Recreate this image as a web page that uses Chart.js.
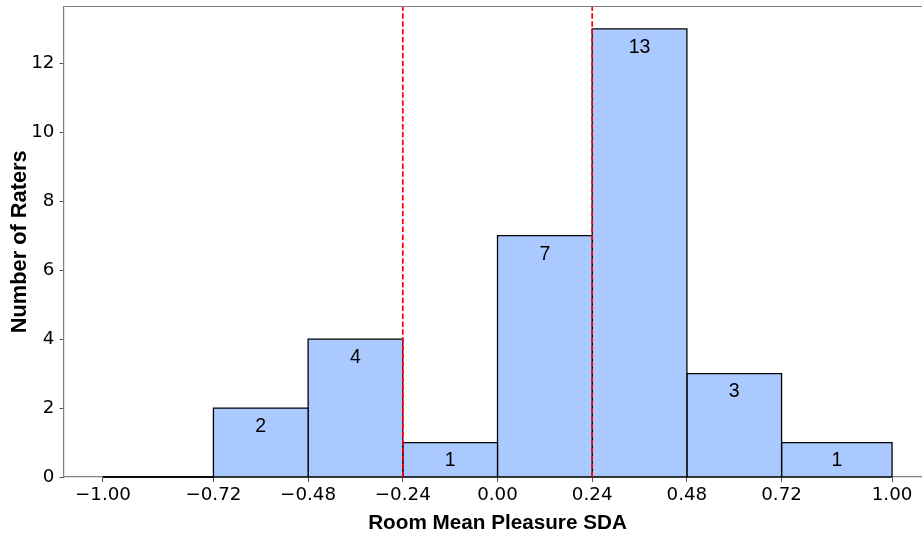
<!DOCTYPE html>
<html>
<head>
<meta charset="utf-8">
<script src="https://cdn.jsdelivr.net/npm/chart.js@4.4.1/dist/chart.umd.min.js"></script>
<style>
  html, body { margin: 0; padding: 0; background: #fff; overflow: hidden; width: 922px; height: 537px; }
  canvas { display: block; }
</style>
</head>
<body>
<canvas id="hist" width="932" height="537"></canvas>
<script>
// histogram bins (edges) and counts per bin
const binEdges = [-1.00, -0.72, -0.48, -0.24, 0.00, 0.24, 0.48, 0.72, 1.00];
const counts = [0, 2, 4, 1, 7, 13, 3, 1];
const thresholds = [-0.24, 0.24];
const xTickVals = [-1.00, -0.72, -0.48, -0.24, 0.00, 0.24, 0.48, 0.72, 1.00];
const yTickVals = [0, 2, 4, 6, 8, 10, 12];

const yMax = 13.65;
const barFill = '#aac9fe';
const tickFont = { family: 'DejaVu Sans', size: 18.3 };
const xTitleFont = { family: 'Liberation Sans', size: 20.7, weight: 'bold' };
const yTitleFont = { family: 'Liberation Sans', size: 21.8, weight: 'bold' };

const datasets = [];

// dashed threshold lines (first so they are drawn on top)
thresholds.forEach(t => {
    datasets.push({
        data: [{ x: t, y: 0 }, { x: t, y: yMax }],
        borderColor: '#ff0000', borderWidth: 1.7, borderDash: [5.5, 2.4],
        pointRadius: 0, fill: false, clip: false
    });
});

// bottom edges of all bins
datasets.push({
    data: [{ x: binEdges[0], y: 0 }, { x: binEdges[binEdges.length - 1], y: 0 }],
    borderColor: '#000', borderWidth: 1.3, pointRadius: 0, fill: false, clip: 4
});

// one rectangle per bin
counts.forEach((c, i) => {
    const x0 = binEdges[i], x1 = binEdges[i + 1];
    datasets.push({
        data: [{ x: x0, y: 0 }, { x: x0, y: c }, { x: x1, y: c }, { x: x1, y: 0 }],
        borderColor: '#000', borderWidth: 1.3, backgroundColor: barFill,
        pointRadius: 0, fill: 'origin', tension: 0, clip: 4
    });
});

const countLabels = {
    id: 'countLabels',
    afterDatasetsDraw(chart) {
        const { ctx, scales: { x, y } } = chart;
        ctx.save();
        ctx.font = '19.5px "Liberation Sans"';
        ctx.fillStyle = '#000';
        ctx.textAlign = 'center';
        ctx.textBaseline = 'middle';
        counts.forEach((c, i) => {
            if (c <= 0) return;
            const cx = x.getPixelForValue((binEdges[i] + binEdges[i + 1]) / 2);
            ctx.fillText(String(c), cx, y.getPixelForValue(c) + 18.5);
        });
        ctx.restore();
    }
};

const topSpine = {
    id: 'topSpine',
    afterDraw(chart) {
        const { ctx, chartArea } = chart;
        ctx.save();
        ctx.strokeStyle = '#7f7f7f';
        ctx.lineWidth = 1.2;
        ctx.beginPath();
        ctx.moveTo(chartArea.left, chartArea.top);
        ctx.lineTo(chartArea.right, chartArea.top);
        ctx.stroke();
        ctx.restore();
    }
};

const fmt = v => (v < 0 ? '\u2212' : '') + Math.abs(v).toFixed(2);

new Chart(document.getElementById('hist'), {
    type: 'line',
    data: { datasets },
    options: {
        responsive: false,
        animation: false,
        layout: { padding: { top: 6.5, right: 0.5, left: 0, bottom: 0 } },
        plugins: { legend: { display: false }, tooltip: { enabled: false } },
        scales: {
            x: {
                type: 'linear', min: -1.1, max: 1.1,
                afterBuildTicks: s => { s.ticks = xTickVals.map(v => ({ value: v })); },
                afterFit: s => { s.height = 60; s.paddingLeft = 0; s.paddingRight = 0; },
                ticks: { font: tickFont, color: '#000', padding: 2, maxRotation: 0, autoSkip: false, callback: v => fmt(v) },
                grid: { drawOnChartArea: false, drawTicks: true, tickLength: 5, color: '#555' },
                border: { display: true, color: '#7f7f7f', width: 1.2 },
                title: { display: true, text: 'Room Mean Pleasure SDA', font: xTitleFont, color: '#000', padding: { top: 0, bottom: 1 } }
            },
            y: {
                type: 'linear', min: 0, max: yMax,
                afterBuildTicks: s => { s.ticks = yTickVals.map(v => ({ value: v })); },
                afterFit: s => { s.width = 63.5; s.paddingTop = 0; s.paddingBottom = 0; },
                ticks: { font: tickFont, color: '#000', padding: 5, callback: v => String(v) },
                grid: { drawOnChartArea: false, drawTicks: true, tickLength: 4, color: '#555' },
                border: { display: true, color: '#7f7f7f', width: 1.2 },
                title: { display: true, text: 'Number of Raters', font: yTitleFont, color: '#000', padding: { top: 6.5, bottom: 0 } }
            }
        }
    },
    plugins: [countLabels, topSpine]
});
</script>
</body>
</html>
